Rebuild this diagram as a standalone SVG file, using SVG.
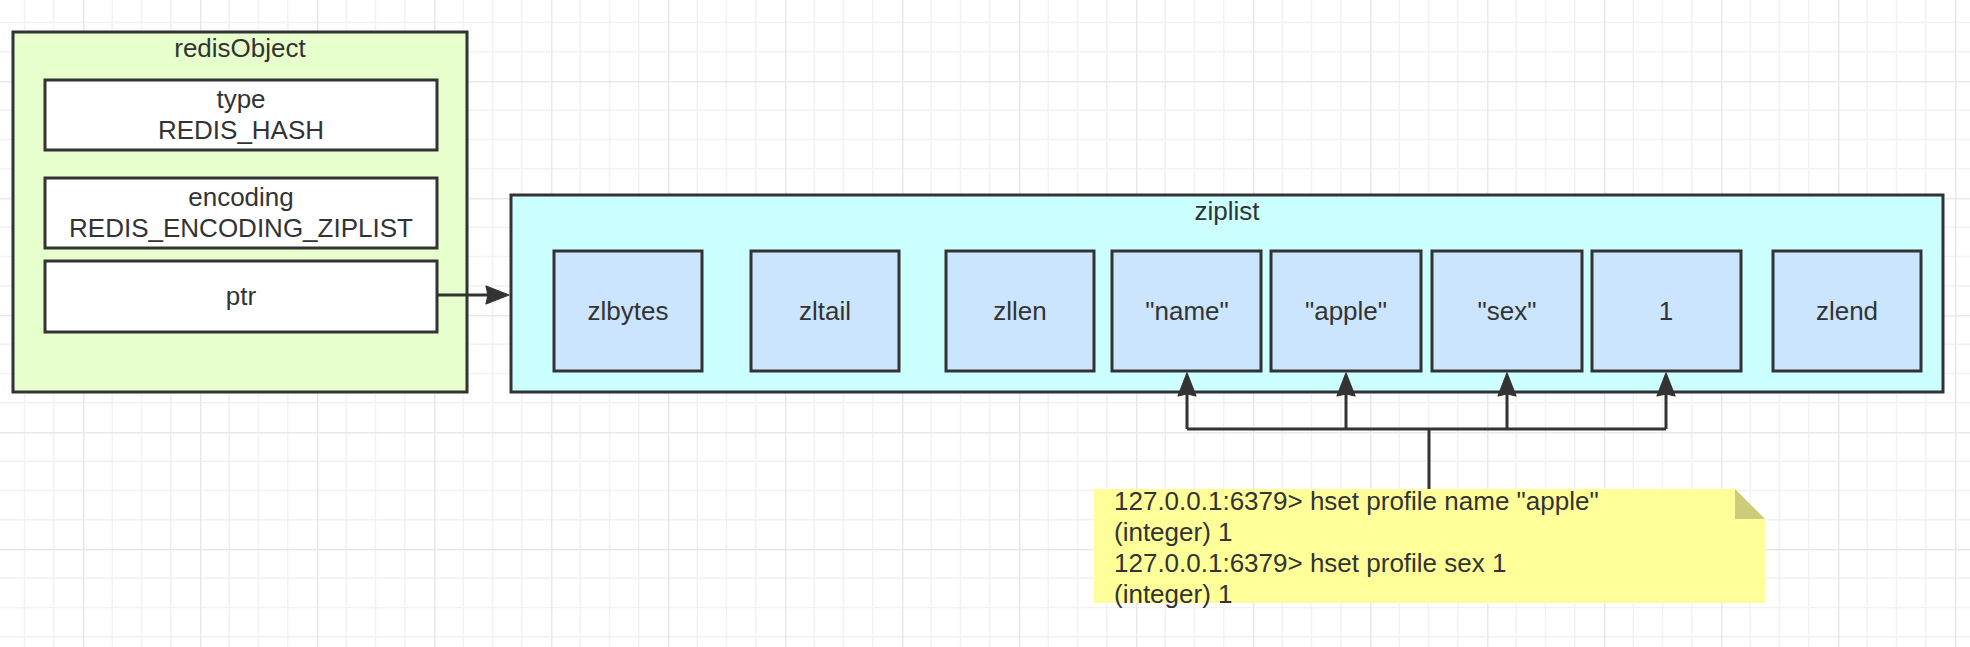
<svg xmlns="http://www.w3.org/2000/svg" width="1970" height="647" viewBox="0 0 1970 647">
<style>
  text { font-family: "Liberation Sans", Arial, Helvetica, sans-serif; font-size: 26px; fill: #333333; }
  .c { text-anchor: middle; }
  .box { stroke: #333333; stroke-width: 3; }
  .green { fill: #e6ffcc; }
  .white { fill: #ffffff; }
  .cyan { fill: #ccffff; }
  .blue { fill: #cce5ff; }
  .line { fill: none; stroke: #333333; stroke-width: 3; }
</style>
<defs>
  <pattern id="grid" patternUnits="userSpaceOnUse" x="83" y="81" width="117" height="117">
    <path d="M29.25 0V117M58.5 0V117M87.75 0V117M0 29.25H117M0 58.5H117M0 87.75H117" stroke="#f2f2f2" stroke-width="1.5" fill="none"/>
    <path d="M0.75 0V117M0 0.75H117" stroke="#e9e9e9" stroke-width="1.5" fill="none"/>
  </pattern>
  <marker id="arr" markerUnits="userSpaceOnUse" markerWidth="30" markerHeight="22" viewBox="-12 -11 30 22" refX="0" refY="0" orient="auto">
    <path d="M14 0L-9 -9L-7 0L-9 9Z" fill="#333333" stroke="#333333" stroke-width="1.2" stroke-linejoin="round"/>
  </marker>
</defs>
<rect width="1970" height="647" fill="#ffffff"/>
<rect width="1970" height="647" fill="url(#grid)"/>

<g id="redisObject">
  <rect class="box green" x="13" y="32" width="454" height="360"/>
  <text class="c" x="240" y="57">redisObject</text>
</g>
<g id="type">
  <rect class="box white" x="45" y="80" width="392" height="70"/>
  <text class="c" x="241" y="108">type</text>
  <text class="c" x="241" y="139">REDIS_HASH</text>
</g>
<g id="encoding">
  <rect class="box white" x="45" y="178" width="392" height="70"/>
  <text class="c" x="241" y="206">encoding</text>
  <text class="c" x="241" y="237">REDIS_ENCODING_ZIPLIST</text>
</g>
<g id="ptr">
  <rect class="box white" x="45" y="261" width="392" height="71"/>
  <text class="c" x="241" y="305">ptr</text>
</g>

<g id="ziplist">
  <rect class="box cyan" x="511" y="195" width="1432" height="197"/>
  <text class="c" x="1227" y="220">ziplist</text>
</g>
<g id="zlbytes">
  <rect class="box blue" x="554" y="251" width="148" height="120"/>
  <text class="c" x="628" y="320">zlbytes</text>
</g>
<g id="zltail">
  <rect class="box blue" x="751" y="251" width="148" height="120"/>
  <text class="c" x="825" y="320">zltail</text>
</g>
<g id="zllen">
  <rect class="box blue" x="946" y="251" width="148" height="120"/>
  <text class="c" x="1020" y="320">zllen</text>
</g>
<g id="name">
  <rect class="box blue" x="1112" y="251" width="149" height="120"/>
  <text class="c" x="1187" y="320">"name"</text>
</g>
<g id="apple">
  <rect class="box blue" x="1271" y="251" width="150" height="120"/>
  <text class="c" x="1346" y="320">"apple"</text>
</g>
<g id="sex">
  <rect class="box blue" x="1432" y="251" width="150" height="120"/>
  <text class="c" x="1507" y="320">"sex"</text>
</g>
<g id="one">
  <rect class="box blue" x="1592" y="251" width="149" height="120"/>
  <text class="c" x="1666" y="320">1</text>
</g>
<g id="zlend">
  <rect class="box blue" x="1773" y="251" width="148" height="120"/>
  <text class="c" x="1847" y="320">zlend</text>
</g>

<g id="note">
  <path d="M1094 489H1735L1765 519V603H1094Z" fill="#ffff99"/>
  <path d="M1735 489V519H1765Z" fill="#cccc7a"/>
  <text x="1114" y="510">127.0.0.1:6379&gt; hset profile name "apple"</text>
  <text x="1114" y="541">(integer) 1</text>
  <text x="1114" y="572">127.0.0.1:6379&gt; hset profile sex 1</text>
  <text x="1114" y="603">(integer) 1</text>
</g>

<g id="connectors">
  <path class="line" d="M437 295H495" marker-end="url(#arr)"/>
  <path class="line" d="M1187 429H1666"/>
  <path class="line" d="M1429 489V429"/>
  <path class="line" d="M1187 429V387" marker-end="url(#arr)"/>
  <path class="line" d="M1346 429V387" marker-end="url(#arr)"/>
  <path class="line" d="M1507 429V387" marker-end="url(#arr)"/>
  <path class="line" d="M1666 429V387" marker-end="url(#arr)"/>
</g>
</svg>
